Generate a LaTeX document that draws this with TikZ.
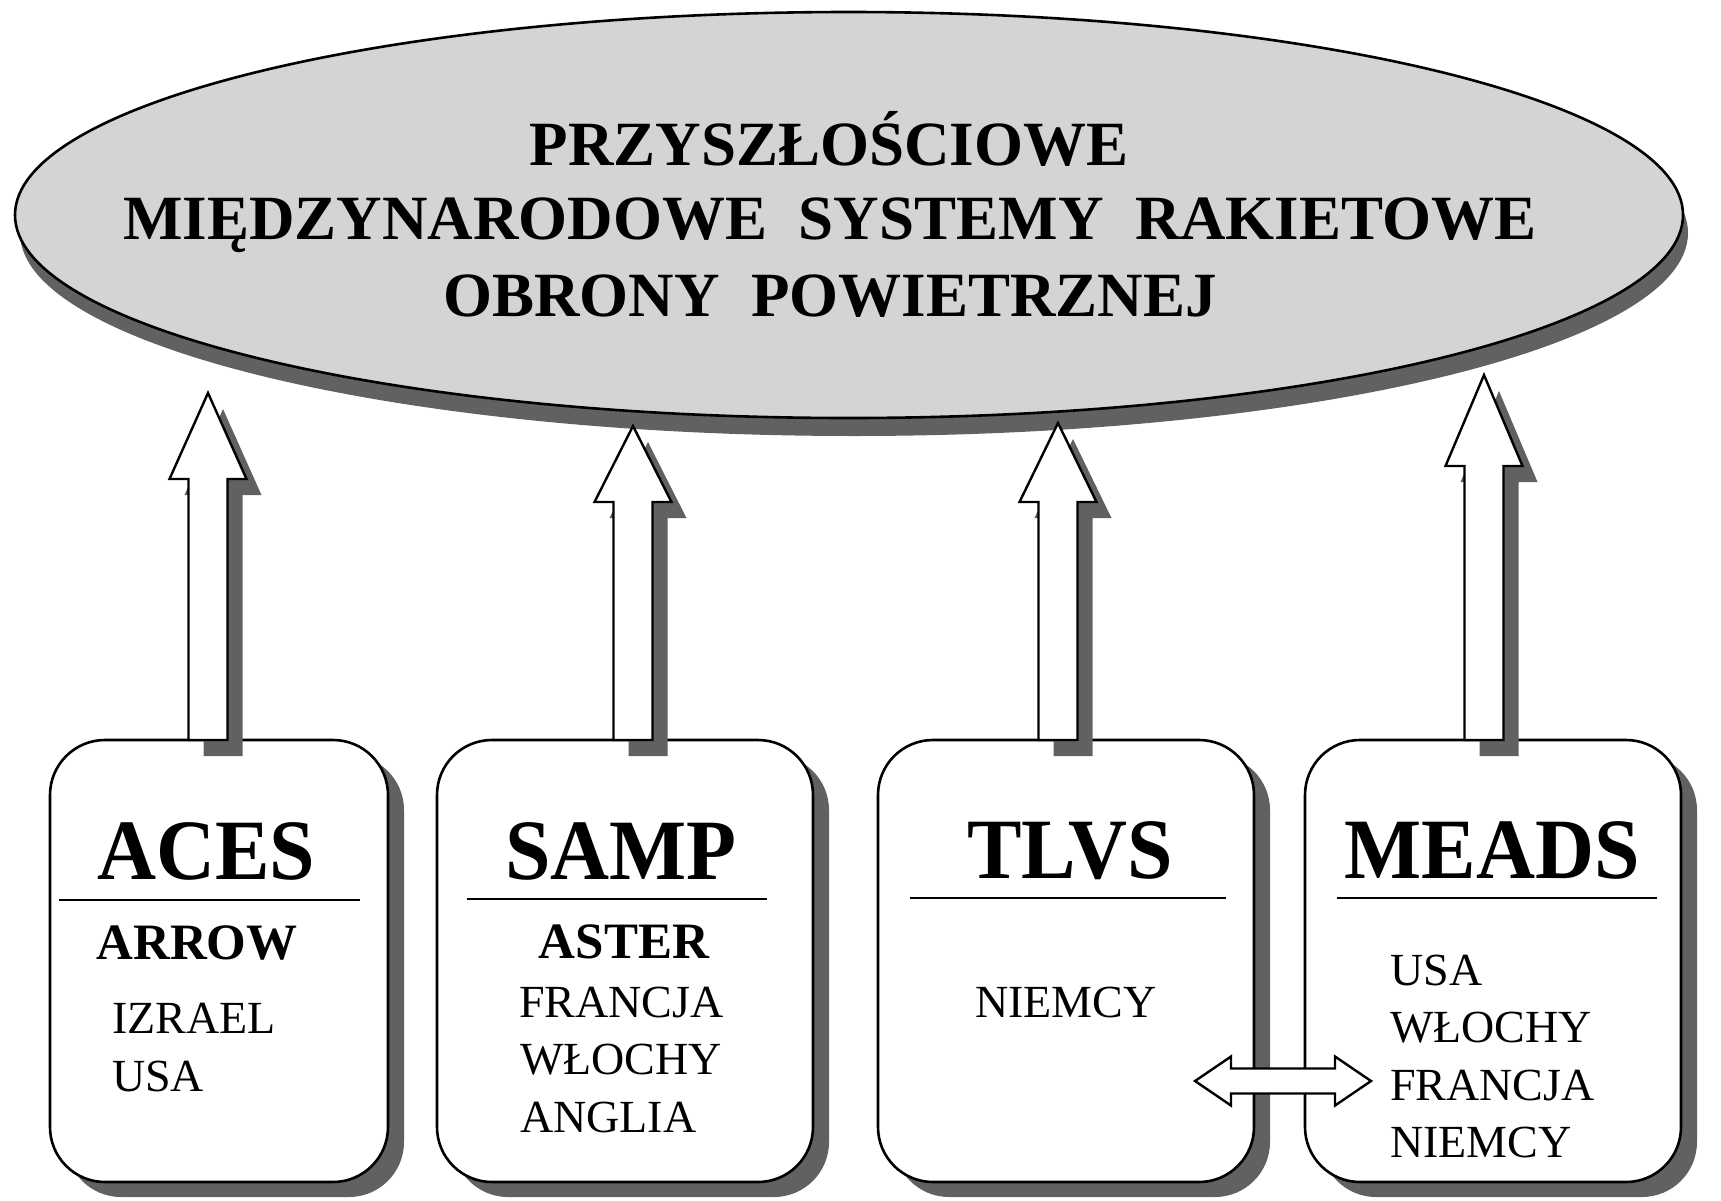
\documentclass[tikz,border=0pt]{standalone}
\usepackage{fontspec}
\setmainfont{Liberation Serif}
\newfontfamily\headfont[FakeStretch=0.95]{Liberation Serif}
\usepackage{tikz}
\usetikzlibrary{shadows}

\begin{document}
\begin{tikzpicture}[x=1pt,y=-1pt,
  shadowfill/.style={fill=black!62},
  sysbox/.style={draw=black,line width=2.6pt,fill=white,rounded corners=55pt,
    minimum width=376pt,minimum height=442pt,inner sep=0pt,outer sep=0pt,anchor=north west,
    drop shadow={shadow xshift=16pt,shadow yshift=-15pt,opacity=1,fill=black!62}},
  blockarrow/.style={draw=black,line width=2.4pt,fill=white,line join=miter},
  rule/.style={line width=2.6pt},
  headline/.style={anchor=base,inner sep=0pt,font=\fontsize{63}{75}\selectfont\bfseries},
  sysname/.style={anchor=base,inner sep=0pt,font=\headfont\fontsize{86}{100}\selectfont\bfseries},
  subname/.style={anchor=base,inner sep=0pt,font=\fontsize{51}{60}\selectfont\bfseries},
  country/.style={anchor=base west,inner sep=0pt,font=\fontsize{46}{57}\selectfont}]

  \useasboundingbox (0,0) rectangle (1721,1200);

  % the common goal
  \fill[shadowfill] (854,233) ellipse [x radius=834,y radius=203];
  \draw[line width=2.6pt,fill=black!17] (849,215) ellipse [x radius=834,y radius=203];
  \node[headline] (title1) at (829,165) {PRZYSZŁOŚCIOWE};
  \node[headline] (title2) at (830,239) {MIĘDZYNARODOWE~~SYSTEMY~~RAKIETOWE};
  \node[headline] (title3) at (830,316) {OBRONY~~POWIETRZNEJ};

  % the four programmes
  \node[sysbox,minimum width=338pt] (acesbox) at (50,740) {};
  \node[sysbox] (sampbox) at (437,740) {};
  \node[sysbox] (tlvsbox) at (878,740) {};
  \node[sysbox] (meadsbox) at (1305,740) {};

  \coordinate (acesfoot) at (208,740);
  \coordinate (sampfoot) at (633,740);
  \coordinate (tlvsfoot) at (1058,740);
  \coordinate (meadsfoot) at (1484,740);

  % block arrows up to the ellipse
  \foreach \foot/\shaft/\head in {acesfoot/261/86,sampfoot/238/76,tlvsfoot/238/79,meadsfoot/274/91} {
    \fill[shadowfill] ([shift={(15,16)}]\foot) ++(-19.5,0) -- ++(0,-\shaft) -- ++(-19,0)
      -- ++(38.5,-\head) -- ++(38.5,\head) -- ++(-19,0) -- ++(0,\shaft) -- cycle;
    \draw[blockarrow] (\foot) ++(-19.5,0) -- ++(0,-\shaft) -- ++(-19,0)
      -- ++(38.5,-\head) -- ++(38.5,\head) -- ++(-19,0) -- ++(0,\shaft) -- cycle;
  }

  % ACES
  \node[sysname] (aces) at (206,879) {ACES};
  \draw[rule] (59,900) -- (360,900);
  \node[subname] (arrow) at (197,959) {ARROW};
  \node[country] (izrael) at (112,1033) {IZRAEL};
  \node[country] (usaa) at (112,1091) {USA};

  % SAMP
  \node[sysname] (samp) at (621,879) {SAMP};
  \draw[rule] (467,899) -- (767,899);
  \node[subname] (aster) at (624,958) {ASTER};
  \node[country] (francjas) at (519,1017) {FRANCJA};
  \node[country] (wlochys) at (520,1074) {WŁOCHY};
  \node[country] (anglia) at (520,1132) {ANGLIA};

  % TLVS
  \node[sysname] (tlvs) at (1070,878) {TLVS};
  \draw[rule] (910,898) -- (1226,898);
  \node[country] (niemcyt) at (975,1017) {NIEMCY};

  % MEADS
  \node[sysname] (meads) at (1492,878) {MEADS};
  \draw[rule] (1337,898) -- (1657,898);
  \node[country] (usam) at (1390,985) {USA};
  \node[country] (wlochym) at (1390,1042) {WŁOCHY};
  \node[country] (francjam) at (1390,1100) {FRANCJA};
  \node[country] (niemcym) at (1390,1157) {NIEMCY};

  % link between TLVS and MEADS
  \coordinate (link) at (1283,1081);
  \draw[blockarrow] (link) ++(-88,0) -- ++(36,-24.5) -- ++(0,12) -- ++(104,0) -- ++(0,-12)
    -- ++(36,24.5) -- ++(-36,24.5) -- ++(0,-12) -- ++(-104,0) -- ++(0,12) -- cycle;
\end{tikzpicture}
\end{document}
